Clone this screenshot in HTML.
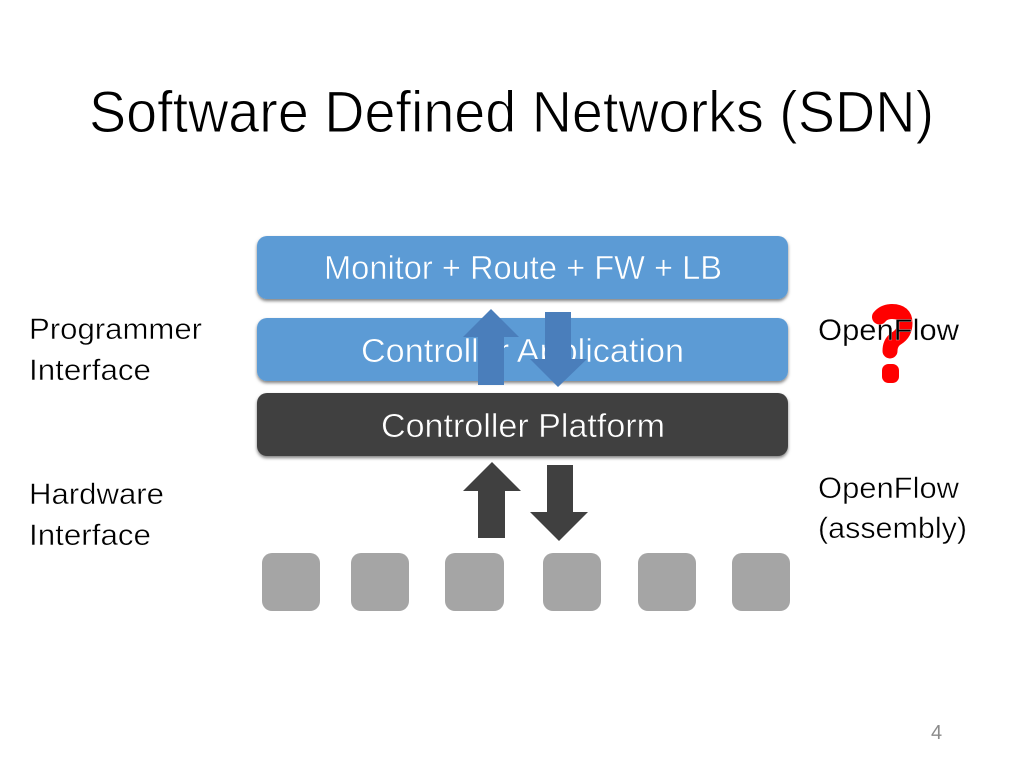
<!DOCTYPE html>
<html><head><meta charset="utf-8"><style>html,body{margin:0;padding:0;background:#fff;width:1024px;height:768px;overflow:hidden}svg{display:block}text{font-family:"Liberation Sans",sans-serif}.k{stroke:#fff;stroke-width:.45px}</style></head>
<body>
<svg width="1024" height="768" viewBox="0 0 1024 768" xmlns="http://www.w3.org/2000/svg">
<defs><filter id="s" x="-5%" y="-20%" width="110%" height="140%"><feDropShadow dx="0" dy="2" stdDeviation="1.5" flood-color="#000" flood-opacity="0.5"/></filter></defs>
<rect width="1024" height="768" fill="#fff"/>
<text class="k" x="89" y="132" font-size="58" fill="#000" textLength="845" lengthAdjust="spacingAndGlyphs" style="stroke-width:1px">Software Defined Networks (SDN)</text>
<rect x="257" y="236" width="531" height="63" rx="10" fill="#5b9bd5" filter="url(#s)"/>
<rect x="257" y="318" width="531" height="63" rx="10" fill="#5b9bd5" filter="url(#s)"/>
<rect x="257" y="393" width="531" height="63" rx="10" fill="#404040" filter="url(#s)"/>
<text x="324" y="279" font-size="33" fill="#fff" stroke="#5b9bd5" stroke-width=".5" textLength="398" lengthAdjust="spacingAndGlyphs">Monitor + Route + FW + LB</text>
<text x="361" y="362" font-size="33" fill="#fff" stroke="#5b9bd5" stroke-width=".5" textLength="323" lengthAdjust="spacingAndGlyphs">Controller Application</text>
<text x="381" y="437" font-size="33" fill="#fff" stroke="#404040" stroke-width=".5" textLength="284" lengthAdjust="spacingAndGlyphs">Controller Platform</text>
<polygon points="491,309 519,337 504,337 504,385 478,385 478,337 463,337" fill="#4a7ebb"/>
<polygon points="545,312 571,312 571,359 587,359 558,387 530,359 545,359" fill="#4a7ebb"/>
<polygon points="492,462 521,491 505,491 505,538 478,538 478,491 463,491" fill="#404040"/>
<polygon points="547,465 573,465 573,512 588,512 559,541 530,512 547,512" fill="#404040"/>
<rect x="262" y="553" width="58" height="58" rx="10" fill="#a5a5a5"/>
<rect x="351" y="553" width="58" height="58" rx="10" fill="#a5a5a5"/>
<rect x="445" y="553" width="59" height="58" rx="10" fill="#a5a5a5"/>
<rect x="543" y="553" width="58" height="58" rx="10" fill="#a5a5a5"/>
<rect x="638" y="553" width="58" height="58" rx="10" fill="#a5a5a5"/>
<rect x="732" y="553" width="58" height="58" rx="10" fill="#a5a5a5"/>
<text class="k" x="29" y="339" font-size="30" textLength="173" lengthAdjust="spacingAndGlyphs">Programmer</text>
<text class="k" x="29" y="380" font-size="30" textLength="122" lengthAdjust="spacingAndGlyphs">Interface</text>
<text class="k" x="29" y="504" font-size="30" textLength="135" lengthAdjust="spacingAndGlyphs">Hardware</text>
<text class="k" x="29" y="545" font-size="30" textLength="122" lengthAdjust="spacingAndGlyphs">Interface</text>
<path d="M879.5 317 Q884 311.5 892 311.5 Q905 311.5 905 323 Q905 333 897 338 Q890 342 890 351" fill="none" stroke="#ff0000" stroke-width="15" stroke-linejoin="round" stroke-linecap="round"/>
<rect x="882" y="364" width="17" height="19" rx="6.5" fill="#ff0000"/>
<text class="k" x="818" y="340" font-size="30" textLength="141" lengthAdjust="spacingAndGlyphs" style="stroke-width:.25px">OpenFlow</text>
<text class="k" x="818" y="498" font-size="30" textLength="141" lengthAdjust="spacingAndGlyphs">OpenFlow</text>
<text class="k" x="818" y="538" font-size="30" textLength="149" lengthAdjust="spacingAndGlyphs">(assembly)</text>
<text x="931" y="739" font-size="20" fill="#8b8b8b">4</text>
</svg>
</body></html>
